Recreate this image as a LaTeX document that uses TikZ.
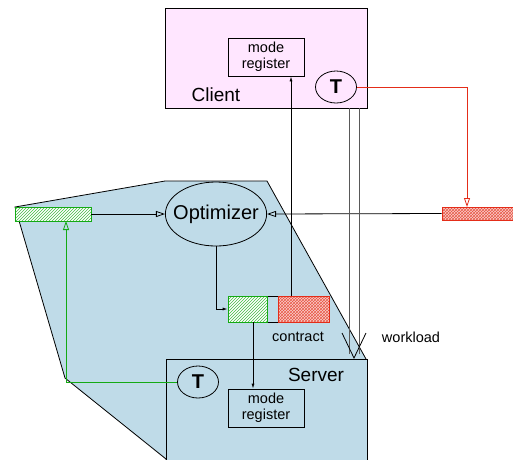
\documentclass[tikz,border=0pt]{standalone}
\usepackage{fontspec}
\setmainfont{Liberation Sans}
\usetikzlibrary{arrows.meta,patterns,shapes.geometric}

\definecolor{sysblue}{RGB}{191,219,232}
\definecolor{clientpink}{RGB}{255,230,255}
\definecolor{hatchgreen}{RGB}{20,170,20}
\definecolor{hatchred}{RGB}{228,45,25}

\tikzset{
  regbox/.style={draw, minimum width=76pt, minimum height=38pt, inner sep=0pt,
    align=center, font=\fontsize{14.5}{16}\selectfont},
  timer/.style={draw, ellipse, minimum width=41pt, minimum height=32pt, inner sep=0pt,
    font=\bfseries\fontsize{20}{20}\selectfont},
  greenhatch/.style={draw=hatchgreen, preaction={fill=white}, pattern=north east lines,
    pattern color=hatchgreen!80},
  redhatch/.style={draw=hatchred, preaction={fill=hatchred!22}, pattern=crosshatch,
    pattern color=hatchred!80},
  opentip/.style={-{Triangle[open,length=9pt,width=6pt]}},
  smalltip/.style={-{Latex[length=5pt,width=3pt]}},
  label/.style={inner sep=0pt, font=\fontsize{14.5}{16}\selectfont}
}

\begin{document}
\begin{tikzpicture}[x=1pt, y=-1pt, line width=0.8pt]
  \useasboundingbox (0,0) rectangle (513,459);

  % optimizer domain
  \draw[fill=sysblue] (15,207) -- (165,181) -- (267,181) -- (366,359) -- (366,470)
    -- (166,470) -- (166,459) -- (65,378) -- cycle;

  % client side
  \node[draw, fill=clientpink, minimum width=202pt, minimum height=100pt, inner sep=0pt] (client) at (266,58) {};
  \node[regbox] (cmode) at (266,57) {mode\\register};
  \node[timer] (ctimer) at (336,87) {T};
  \node[inner sep=0pt, font=\fontsize{19}{20}\selectfont] (clabel) at (216,95) {Client};

  % server side
  \node[draw, fill=sysblue, minimum width=201pt, minimum height=111pt, inner sep=0pt] (server) at (266.5,414.5) {};
  \node[regbox] (smode) at (266,408) {mode\\register};
  \node[timer] (stimer) at (198,382) {T};
  \node[inner sep=0pt, font=\fontsize{19}{20}\selectfont] (slabel) at (316,375) {Server};

  % optimizer and bars
  \node[draw, ellipse, minimum width=100pt, minimum height=64pt, inner xsep=-7pt, inner ysep=0pt,
    font=\fontsize{20}{22}\selectfont] (optimizer) at (216,214) {Optimizer};
  \node[greenhatch, minimum width=76pt, minimum height=14pt, inner sep=0pt] (greenbar) at (53,214) {};
  \node[redhatch, minimum width=78pt, minimum height=13pt, inner sep=0pt] (redbar) at (481,213.5) {};

  % contract
  \node[draw, minimum width=101pt, minimum height=26pt, inner sep=0pt] (contract) at (278.5,309) {};
  \node[greenhatch, minimum width=39pt, minimum height=26pt, inner sep=0pt] (cgreen) at (247.5,309) {};
  \node[redhatch, minimum width=51pt, minimum height=26pt, inner sep=0pt] (cred) at (303.5,309) {};
  \node[label] (ctext) at (298,337) {contract};
  \node[label] (wtext) at (411,337) {workload};

  % connectors
  \coordinate (redin) at (467,207);
  \coordinate (greenin) at (66,221);
  \coordinate (up) at (291,296);
  \coordinate (down) at (253,322);
  \draw[opentip] (greenbar.east) -- (optimizer.west);
  \draw[opentip] (redbar.west) -- (optimizer.east);
  \draw[opentip, hatchred] (ctimer.east) -| (redin);
  \draw[opentip, hatchgreen] (stimer.west) -| (greenin);
  \draw[smalltip] (optimizer.south) |- (cgreen.west);
  \draw[smalltip] (up) -- (up |- cmode.south);
  \draw[smalltip] (down) -- (down |- smode.north);

  % workload
  \coordinate (wtip) at (354,358);
  \draw[black!65] (349,108) -- (349,354);
  \draw[black!65] (359,108) -- (359,354);
  \draw (342,333) -- (wtip) -- (366,333);
\end{tikzpicture}
\end{document}
